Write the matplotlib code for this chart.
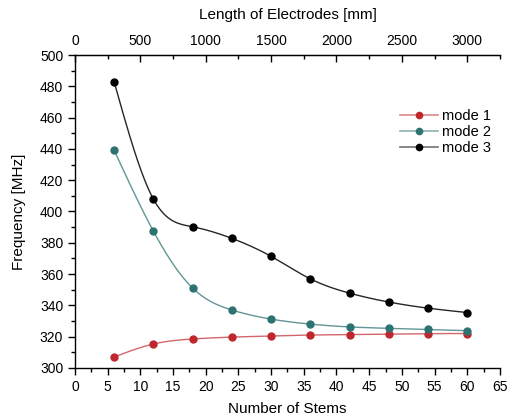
import numpy as np
import matplotlib
matplotlib.use("Agg")
import matplotlib.pyplot as plt
from matplotlib.ticker import MultipleLocator, FixedLocator
from matplotlib.lines import Line2D
from matplotlib.legend_handler import HandlerTuple

plt.rcParams['font.family'] = ['Liberation Sans', 'DejaVu Sans']

stems = [6, 12, 18, 24, 30, 36, 42, 48, 54, 60]
mode1 = [307.0, 315.3, 318.5, 319.7, 320.4, 321.0, 321.3, 321.6, 321.9, 322.0]
mode2 = [439.0, 387.3, 351.0, 337.0, 331.2, 328.0, 326.2, 325.3, 324.6, 323.8]
mode3 = [482.6, 407.8, 390.2, 382.8, 371.3, 356.9, 347.8, 342.1, 338.2, 335.4]
labels = ["mode 1", "mode 2", "mode 3"]
top_ticks = [0, 500, 1000, 1500, 2000, 2500, 3000]
marker_colors = ["#c0272d", "#2e7272", "#000000"]
line_alphas = [0.7, 0.75, 0.85]


def natural_spline(x, y, n=300):
    x = np.asarray(x, float)
    y = np.asarray(y, float)
    k = len(x)
    h = np.diff(x)
    A = np.zeros((k, k))
    b = np.zeros(k)
    A[0, 0] = 1
    A[-1, -1] = 1
    for i in range(1, k - 1):
        A[i, i - 1] = h[i - 1]
        A[i, i] = 2 * (h[i - 1] + h[i])
        A[i, i + 1] = h[i]
        b[i] = 6 * ((y[i + 1] - y[i]) / h[i] - (y[i] - y[i - 1]) / h[i - 1])
    M = np.linalg.solve(A, b)
    xs = np.linspace(x[0], x[-1], n)
    idx = np.clip(np.searchsorted(x, xs) - 1, 0, k - 2)
    x0, x1 = x[idx], x[idx + 1]
    hh = x1 - x0
    ys = (M[idx] * (x1 - xs) ** 3 / (6 * hh) + M[idx + 1] * (xs - x0) ** 3 / (6 * hh)
          + (y[idx] / hh - M[idx] * hh / 6) * (x1 - xs)
          + (y[idx + 1] / hh - M[idx + 1] * hh / 6) * (xs - x0))
    return xs, ys


fig = plt.figure(figsize=(5.07, 4.20), dpi=100)
ax = fig.add_axes([0.148, 0.124, 0.838, 0.745])

leg_handles = []
for ys, mc, la in zip([mode1, mode2, mode3], marker_colors, line_alphas):
    sx, sy = natural_spline(stems, ys)
    ax.plot(sx, sy, color=mc, lw=1.0, alpha=la, zorder=2)
    ax.plot(stems, ys, 'o', color=mc, ms=5, zorder=3)
    leg_handles.append((Line2D([], [], color=mc, lw=1.2, alpha=0.55),
                        Line2D([], [], color=mc, marker='o', ms=4.5, lw=0)))

ax.legend(leg_handles, labels, handler_map={tuple: HandlerTuple(ndivide=1, pad=0)},
          loc='upper right', bbox_to_anchor=(1.01, 0.868), frameon=False,
          fontsize=10.5, handlelength=2.6, handletextpad=0.3, labelspacing=0.12)

ax.set_xlim(0, 65)
ax.set_ylim(300, 500)
ax.xaxis.set_major_locator(MultipleLocator(5))
ax.xaxis.set_minor_locator(MultipleLocator(2.5))
ax.yaxis.set_major_locator(MultipleLocator(20))
ax.yaxis.set_minor_locator(MultipleLocator(10))
ax.tick_params(axis='both', which='major', direction='out', length=5, width=1, labelsize=10)
ax.tick_params(axis='both', which='minor', direction='out', length=3, width=1)
ax.spines['right'].set_visible(False)
for s in ['left', 'bottom', 'top']:
    ax.spines[s].set_linewidth(1.0)
ax.set_xlabel("Number of Stems", fontsize=11, labelpad=6)
ax.set_ylabel("Frequency [MHz]", fontsize=11, labelpad=10)

top = ax.secondary_xaxis('top', functions=(lambda v: v * 50, lambda v: v / 50))
top.xaxis.set_major_locator(FixedLocator(top_ticks))
top.xaxis.set_minor_locator(FixedLocator(list(np.arange(250, 3251, 500))))
top.tick_params(which='major', direction='in', length=5, width=1, labelsize=10, pad=5)
top.tick_params(which='minor', direction='in', length=3, width=1)
top.set_xlabel("Length of Electrodes [mm]", fontsize=11, labelpad=11)

fig.savefig("out.png", dpi=100)
